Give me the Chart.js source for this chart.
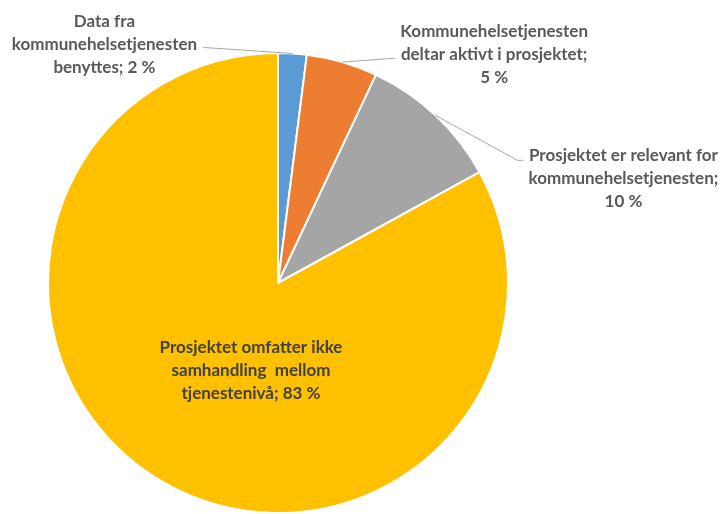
<!DOCTYPE html>
<html>
<head>
<meta charset="utf-8">
<script src="https://cdn.jsdelivr.net/npm/chart.js@4/dist/chart.umd.min.js"></script>
<style>
  html,body{margin:0;padding:0;background:#fff;}
  #wrap{width:720px;height:514px;position:relative;}
</style>
</head>
<body>
<div id="wrap"><canvas id="pie"></canvas></div>
<script>
// data
const categories = [
  ['Data fra', 'kommunehelsetjenesten', 'benyttes'],
  ['Kommunehelsetjenesten', 'deltar aktivt i prosjektet'],
  ['Prosjektet er relevant for', 'kommunehelsetjenesten'],
  ['Prosjektet omfatter ikke', 'samhandling  mellom', 'tjenestenivå']
];
const shares = [2, 5, 10, 83];
const colors = ['#5B9BD5', '#ED7D31', '#A5A5A5', '#FFC000'];

// label placement per slice (offsets from the rim point at mid angle, or from centre for inside)
const labelPlace = [
  {elbow:[-89,-6], text:[-188,-9], ownLine:false},
  {elbow:[53,-4], text:[152,-8], ownLine:true},
  {elbow:[82,45], tail:6, text:[188,63], ownLine:true},
  {inside:true, text:[-27,88], ownLine:false}
];

const labelPlugin = {
  id:'sliceLabels',
  afterDatasetsDraw(chart){
    const ctx = chart.ctx;
    const meta = chart.getDatasetMeta(0);
    ctx.save();
    ctx.font = 'bold 17px Lato, "Liberation Sans", sans-serif';
    ctx.textAlign = 'center';
    ctx.textBaseline = 'middle';
    meta.data.forEach((arc, i) => {
      const p = arc.getProps(['x','y','startAngle','endAngle','outerRadius'], true);
      const mid = (p.startAngle + p.endAngle) / 2;
      const ax = p.x + Math.cos(mid) * p.outerRadius;
      const ay = p.y + Math.sin(mid) * p.outerRadius;
      const pl = labelPlace[i];
      let lines = categories[i].slice();
      if (pl.ownLine) { lines[lines.length-1] += ';'; lines.push(shares[i] + ' %'); }
      else lines[lines.length-1] += '; ' + shares[i] + ' %';
      let cx, cy;
      if (pl.inside) {
        cx = p.x + pl.text[0]; cy = p.y + pl.text[1];
        ctx.fillStyle = '#404040';
      } else {
        const ex = ax + pl.elbow[0], ey = ay + pl.elbow[1];
        ctx.strokeStyle = '#A6A6A6';
        ctx.lineWidth = 1;
        ctx.beginPath();
        ctx.moveTo(ax, ay);
        ctx.lineTo(ex, ey);
        if (pl.tail) ctx.lineTo(ex + pl.tail, ey);
        ctx.stroke();
        cx = ax + pl.text[0]; cy = ay + pl.text[1];
        ctx.fillStyle = '#595959';
      }
      const lh = 23;
      const c = (lines.length - 1) / 2;
      lines.forEach((t, k) => ctx.fillText(t, cx, cy + (k - c) * lh));
    });
    ctx.restore();
  }
};

new Chart(document.getElementById('pie'), {
  type:'pie',
  data:{
    labels: categories.map(c => c.join(' ')),
    datasets:[{data: shares, backgroundColor: colors, borderColor:'#fff', borderWidth:2}]
  },
  options:{
    responsive:true,
    maintainAspectRatio:false,
    animation:false,
    layout:{padding:{left:46, right:210, top:52, bottom:0}},
    plugins:{legend:{display:false}, tooltip:{enabled:false}}
  },
  plugins:[labelPlugin]
});
</script>
</body>
</html>
